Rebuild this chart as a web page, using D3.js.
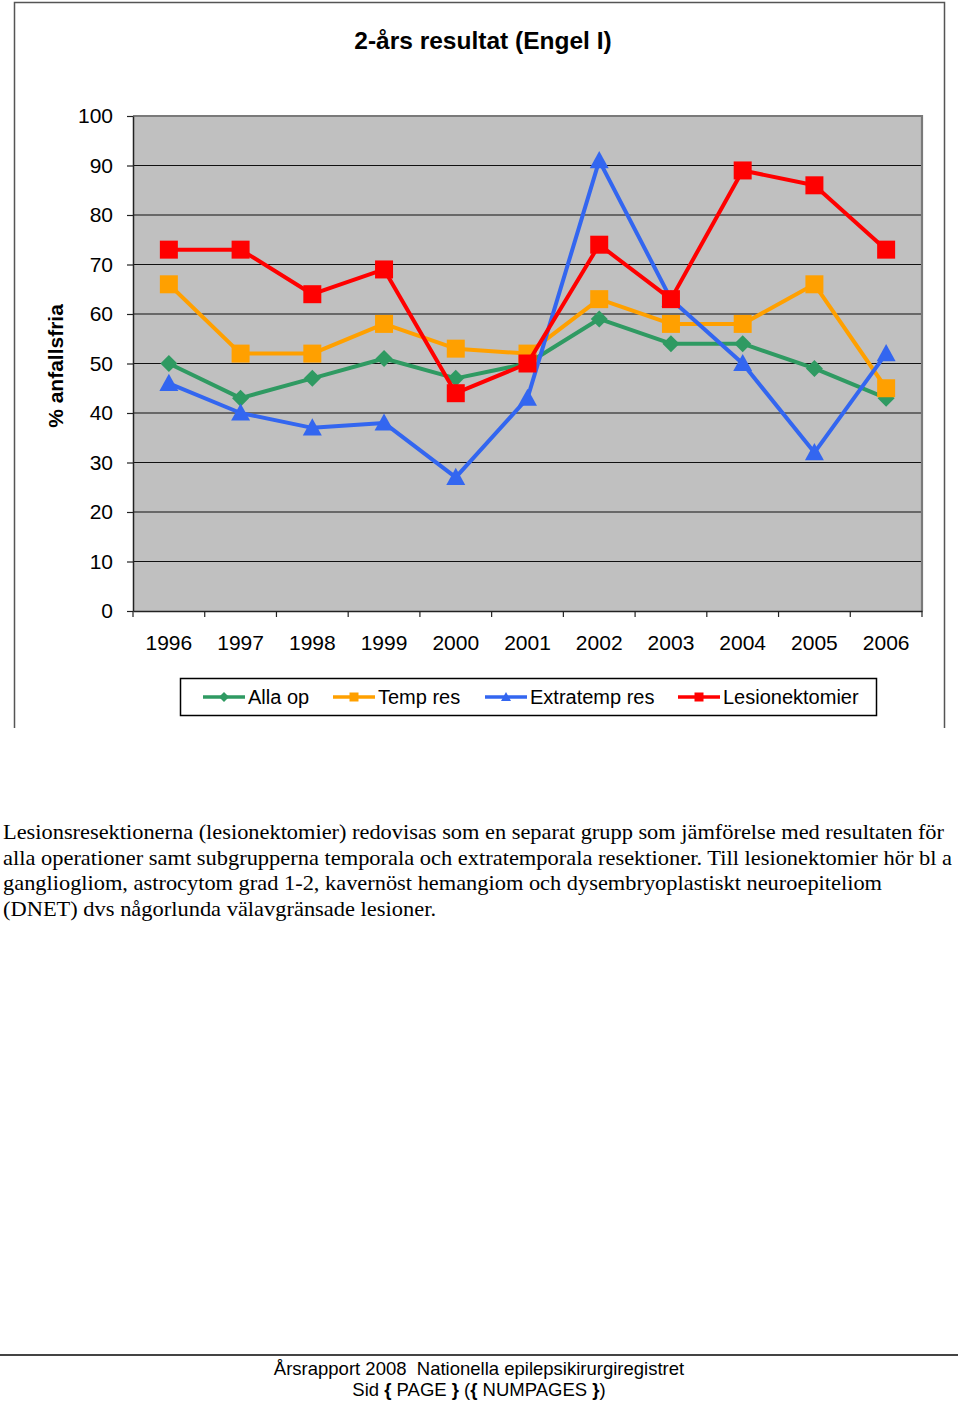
<!DOCTYPE html>
<html>
<head>
<meta charset="utf-8">
<script src="https://cdn.jsdelivr.net/npm/d3@7"></script>
<style>
  html, body { margin: 0; padding: 0; background: #fff; }
  svg { display: block; }
</style>
</head>
<body>
<script>
// ---- Data ----
const years = ["1996","1997","1998","1999","2000","2001","2002","2003","2004","2005","2006"];
const allaOp = [50,43,47,51,47,50,59,54,54,49,43];
const tempRes = [66,52,52,58,53,52,63,58,58,66,45];
const extratempRes = [46,40,37,38,27,43,91,63,50,32,52];
const lesionektomier = [73,73,64,69,44,50,74,63,89,86,73];
const yTicks = [0,10,20,30,40,50,60,70,80,90,100];
const seriesNames = ["Alla op","Temp res","Extratemp res","Lesionektomier"];
const titleText = "2-års resultat (Engel I)";
const yTitle = "% anfallsfria";
const paragraphLines = [
  "Lesionsresektionerna (lesionektomier) redovisas som en separat grupp som jämförelse med resultaten för",
  "alla operationer samt subgrupperna temporala och extratemporala resektioner. Till lesionektomier hör bl a",
  "gangliogliom, astrocytom grad 1-2, kavernöst hemangiom och dysembryoplastiskt neuroepiteliom",
  "(DNET) dvs någorlunda välavgränsade lesioner."
];
const footerLine1 = "Årsrapport 2008  Nationella epilepsikirurgiregistret";
const footerLine2Parts = [
  { t: "Sid ", b: false }, { t: "{", b: true }, { t: " PAGE ", b: false }, { t: "}", b: true },
  { t: " (", b: false }, { t: "{", b: true }, { t: " NUMPAGES ", b: false }, { t: "}", b: true }, { t: ")", b: false }
];

// ---- Setup ----
const W = 960, H = 1401;
const sans = "'Liberation Sans', Arial, sans-serif";
const serif = "'Liberation Serif', 'Times New Roman', serif";
const svg = d3.select("body").append("svg").attr("width", W).attr("height", H);
svg.append("rect").attr("width", W).attr("height", H).attr("fill", "#fff");

const series = [
  { name: seriesNames[0], values: allaOp, color: "#2f9a62", shape: "diamond" },
  { name: seriesNames[1], values: tempRes, color: "#ffa000", shape: "square" },
  { name: seriesNames[2], values: extratempRes, color: "#3366f0", shape: "triangle" },
  { name: seriesNames[3], values: lesionektomier, color: "#ff0000", shape: "square" }
];

// chart outer frame
svg.append("path").attr("d", "M14.5,728 V2.5 H944.5 V728")
  .attr("fill", "none").attr("stroke", "#555").attr("stroke-width", 1.5);

const pL = 133, pR = 922, pT = 116, pB = 611;
const x = d3.scaleBand().domain(years).range([pL, pR]);
const y = d3.scaleLinear().domain([0, 100]).range([pB, pT]);

// plot area
svg.append("rect").attr("x", pL).attr("y", pT).attr("width", pR - pL).attr("height", pB - pT)
  .attr("fill", "#c0c0c0");

// gridlines
svg.append("g").selectAll("line").data(yTicks.filter(d => d > 0 && d < 100)).join("line")
  .attr("x1", pL).attr("x2", pR).attr("y1", d => y(d)).attr("y2", d => y(d))
  .attr("stroke", "#111").attr("stroke-width", 1.2);
// top and right borders
svg.append("path").attr("d", `M${pL},${y(100)} H${pR} V${pB}`)
  .attr("fill", "none").attr("stroke", "#7a7a7a").attr("stroke-width", 2.2);

// y axis
const yAxis = svg.append("g").attr("transform", `translate(${pL},0)`)
  .call(d3.axisLeft(y).tickValues(yTicks).tickSize(6).tickSizeOuter(0).tickPadding(14));
yAxis.select(".domain").attr("stroke", "#222").attr("stroke-width", 1.5);
yAxis.selectAll(".tick line").attr("stroke", "#222").attr("stroke-width", 1.2);
yAxis.selectAll("text").attr("font-family", sans).attr("font-size", 21).attr("fill", "#000");

// x axis
const xAxis = svg.append("g").attr("transform", `translate(0,${pB})`)
  .call(d3.axisBottom(x).tickSize(0).tickPadding(24));
xAxis.select(".domain").attr("stroke", "#222").attr("stroke-width", 1.5);
xAxis.selectAll("text").attr("font-family", sans).attr("font-size", 21).attr("fill", "#000");
const bounds = years.map(d => x(d)).concat([x(years[years.length - 1]) + x.bandwidth()]);
svg.append("g").selectAll("line").data(bounds).join("line")
  .attr("x1", d => d).attr("x2", d => d).attr("y1", pB).attr("y2", pB + 6)
  .attr("stroke", "#222").attr("stroke-width", 1.2);

// title
svg.append("text").attr("x", 483).attr("y", 49).attr("text-anchor", "middle")
  .attr("font-family", sans).attr("font-weight", "bold").attr("font-size", 24.5).attr("fill", "#000")
  .text(titleText);

// y title
svg.append("text").attr("transform", "translate(63,366) rotate(-90)").attr("text-anchor", "middle")
  .attr("font-family", sans).attr("font-weight", "bold").attr("font-size", 21).attr("fill", "#000")
  .text(yTitle);

// marker shapes
function markerPath(shape, s) {
  const h = s / 2;
  if (shape === "square") return `M${-h},${-h}H${h}V${h}H${-h}Z`;
  if (shape === "diamond") return `M0,${-h}L${h},0L0,${h}L${-h},0Z`;
  if (shape === "triangle") return `M0,${-h}L${h},${h * 0.8}L${-h},${h * 0.8}Z`;
}
const markerSize = { square: 18, diamond: 17, triangle: 19 };

const cx = d => x(d) + x.bandwidth() / 2;
const line = d3.line().x((d, i) => cx(years[i])).y(d => y(d));

series.forEach(s => {
  const g = svg.append("g");
  g.append("path").attr("d", line(s.values)).attr("fill", "none")
    .attr("stroke", s.color).attr("stroke-width", 4).attr("stroke-linejoin", "round");
  g.selectAll("path.m").data(s.values).join("path").attr("class", "m")
    .attr("transform", (d, i) => `translate(${cx(years[i])},${y(d)})`)
    .attr("d", markerPath(s.shape, markerSize[s.shape]))
    .attr("fill", s.color);
});

// legend
const lg = svg.append("g");
lg.append("rect").attr("x", 180.5).attr("y", 678.5).attr("width", 696).attr("height", 37)
  .attr("fill", "#fff").attr("stroke", "#000").attr("stroke-width", 1.5);
const legendX = [203, 333, 485, 678];
series.forEach((s, i) => {
  const lx = legendX[i];
  lg.append("line").attr("x1", lx).attr("x2", lx + 42).attr("y1", 697).attr("y2", 697)
    .attr("stroke", s.color).attr("stroke-width", 3.5);
  lg.append("path").attr("transform", `translate(${lx + 21},697)`)
    .attr("d", markerPath(s.shape, s.shape === "square" ? 9 : 10)).attr("fill", s.color);
  lg.append("text").attr("x", lx + 45).attr("y", 704).attr("font-family", sans)
    .attr("font-size", 20).attr("fill", "#000").text(s.name);
});

// paragraph
const pWidths = [941, 949, 879, 433];
const pBase = [839, 864.5, 890, 915.5];
svg.append("g").selectAll("text").data(paragraphLines).join("text")
  .attr("x", 3).attr("y", (d, i) => pBase[i])
  .attr("font-family", serif).attr("font-size", 21).attr("fill", "#000")
  .attr("textLength", (d, i) => pWidths[i]).attr("lengthAdjust", "spacingAndGlyphs")
  .text(d => d);

// footer
svg.append("line").attr("x1", 0).attr("x2", 958).attr("y1", 1355).attr("y2", 1355)
  .attr("stroke", "#444").attr("stroke-width", 2);
svg.append("text").attr("x", 479).attr("y", 1375).attr("text-anchor", "middle")
  .attr("font-family", sans).attr("font-size", 18.5).attr("fill", "#000")
  .style("white-space", "pre").text(footerLine1);
const f2 = svg.append("text").attr("x", 479).attr("y", 1396).attr("text-anchor", "middle")
  .attr("font-family", sans).attr("font-size", 18.5).attr("fill", "#000")
  .style("white-space", "pre");
f2.selectAll("tspan").data(footerLine2Parts).join("tspan")
  .attr("font-weight", d => d.b ? "bold" : "normal").text(d => d.t);
</script>
</body>
</html>
